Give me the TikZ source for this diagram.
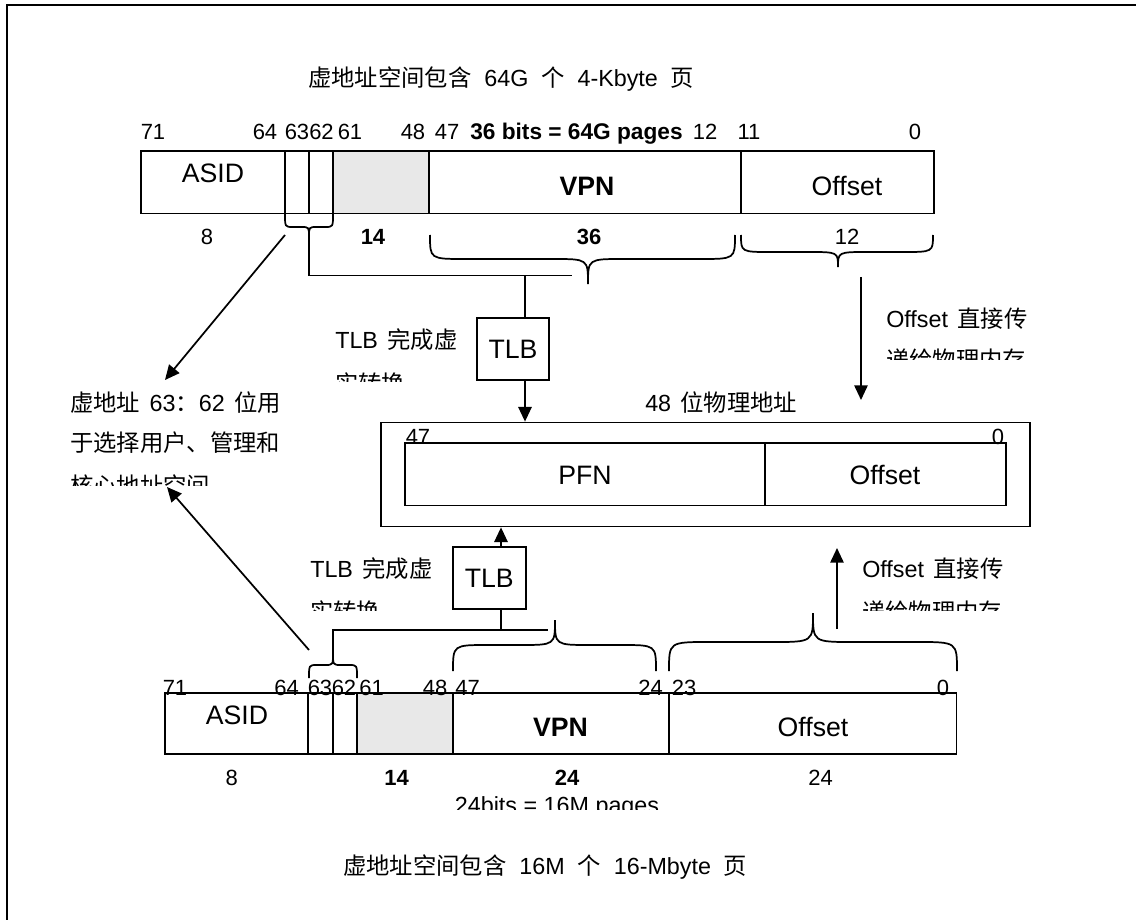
\documentclass[tikz,border=0pt]{standalone}
\usepackage{fontspec}
\setmainfont{Liberation Sans}
\newfontfamily\cjk{Noto Sans CJK SC}
\usetikzlibrary{arrows.meta}
\newcommand\jsp{\hspace{0.4em}}
\newcommand\tsp{\hspace{0.55em}}
% brace: #1 x1, #2 x2, #3 tip x, #4 arm-end y, #5 middle y, #6 tip y, #7 radius
\newcommand\mybrace[7]{%
  \draw[ln] (#1,#4) .. controls (#1,#5) .. ({#1+#7},#5) -- ({#3-#7},#5)
    .. controls (#3,#5) .. (#3,#6) .. controls (#3,#5) .. ({#3+#7},#5)
    -- ({#2-#7},#5) .. controls (#2,#5) .. (#2,#4);}
\definecolor{fieldgray}{HTML}{E8E8E8}
\tikzset{
  ln/.style={line width=1.3pt},
  arr/.style={line width=1.3pt, -{Triangle[length=11pt,width=10pt]}},
  sm/.style={font=\fontsize{17.5}{21}\selectfont, inner sep=0pt},
  bitn/.style={font=\fontsize{16.5}{20}\selectfont, inner sep=0pt, anchor=base},
  bitb/.style={font=\fontsize{16.5}{20}\selectfont\bfseries, inner sep=0pt, anchor=base},
  big/.style={font=\fontsize{20}{24}\selectfont, inner sep=0pt, anchor=base},
  bigb/.style={font=\fontsize{20}{24}\selectfont\bfseries, inner sep=0pt, anchor=base},
  tlbbox/.style={draw, line width=1.3pt, font=\fontsize{20}{24}\selectfont, inner sep=0pt},
}
\begin{document}
\begin{tikzpicture}[x=0.75pt,y=-0.75pt]
\useasboundingbox (0,0) rectangle (1136,920);
% frame
\draw[ln] (7,920) -- (7,5) -- (1136,5);

% titles
\node[sm, anchor=base west] (title1) at (308,87) {{\cjk 虚地址空间包含}\tsp 64G\tsp{\cjk 个}\tsp 4-Kbyte\tsp{\cjk 页}};
\node[sm, anchor=base west] (title2) at (343,874) {{\cjk 虚地址空间包含}\tsp 16M\tsp{\cjk 个}\tsp 16-Mbyte\tsp{\cjk 页}};

% ---------------- top register ----------------
\fill[fieldgray] (333,151) rectangle (429,213.5);
\draw[ln] (141,151) rectangle (934,213.5);
\draw[ln] (285,151) -- (285,213.5);
\draw[ln] (309,151) -- (309,213.5);
\draw[ln] (333,151) -- (333,213.5);
\draw[ln] (429,151) -- (429,213.5);
\draw[ln] (741,151) -- (741,213.5);
\node[big]  (asid1) at (213,182.6) {ASID};
\node[bigb] (vpn1)  at (587,195.6) {VPN};
\node[big]  (off1)  at (847,195.6) {Offset};
% bit numbers
\node[bitn] (a71) at (153,139.5) {71};
\node[bitn] (a64) at (265,139.5) {64};
\node[bitn] (a63) at (297,139.5) {63};
\node[bitn] (a62) at (321.5,139.5) {62};
\node[bitn] (a61) at (350,139.5) {61};
\node[bitn] (a48) at (413,139.5) {48};
\node[bitn] (a47) at (447,139.5) {47};
\node[font=\fontsize{17}{20}\selectfont\bfseries, inner sep=0pt, anchor=base] (abits) at (576.5,139.5) {36 bits = 64G pages};
\node[bitn] (a12) at (705,139.5) {12};
\node[bitn] (a11) at (749,139.5) {11};
\node[bitn] (a0)  at (915,139.5) {0};
% widths
\node[bitn] (w8a)  at (207,244) {8};
\node[bitb] (w14a) at (373,244) {14};
\node[bitb] (w36a) at (589,244) {36};
\node[bitn] (w12a) at (847,244) {12};
% braces
\mybrace{285}{333}{309}{214}{227}{237}{8}
\mybrace{430}{735}{588}{235}{259}{284}{35}
\mybrace{741}{933}{838}{235}{252}{267}{30}

% ---------------- top TLB ----------------
\coordinate (sb1) at (309,237);
\coordinate (hl1) at (309,275.5);
\coordinate (he1) at (572,275.5);
\coordinate (tj1) at (525,275.5);
\node[tlbbox, minimum width=54pt, minimum height=46.5pt] (tlb1) at (513,349) {TLB};
\draw[ln] (sb1) -- (hl1) -- (he1);
\draw[ln] (tj1) -- (tj1 |- tlb1.north);
\node[sm, anchor=base west] (t1a) at (335,349) {TLB\jsp{\cjk 完成虚}};
\begin{scope}
\clip (320,355) rectangle (470,381);
\node[sm, anchor=base west] (t1b) at (335,392) {\cjk 实转换};
\end{scope}

% ---------------- physical address ----------------
\node[draw, line width=1.3pt, minimum width=486.75pt, minimum height=78pt, inner sep=0pt] (phys) at (705.5,474.5) {};
\draw[ln] (405,443) rectangle (1006,505.5);
\draw[ln] (765,443) -- (765,505.5);
\node[big] (pfn)  at (585,484) {PFN};
\node[big] (poff) at (885,484) {Offset};
\node[bitn] (p47) at (418,444) {47};
\node[bitn] (p0)  at (998,444) {0};
\node[sm, anchor=base west] (paddr) at (645,411) {48\jsp{\cjk 位物理地址}};
\draw[arr] (tlb1.south -| tj1) -- (tj1 |- phys.north);

% offset arrow (top)
\coordinate (oa1) at (861,277);
\coordinate (ob1) at (861,400);
\draw[arr] (oa1) -- (ob1);
\node[sm, anchor=base west] (o1a) at (886,327) {Offset\jsp{\cjk 直接传}};
\begin{scope}
\clip (870,335) rectangle (1060,359);
\node[sm, anchor=base west] (o1b) at (886,368.5) {\cjk 递给物理内存};
\end{scope}

% ---------------- left text ----------------
\node[sm, anchor=base west] (l1) at (70,411) {{\cjk 虚地址}\jsp 63{\cjk ：}62\jsp{\cjk 位用}};
\node[sm, anchor=base west] (l2) at (70,451) {\cjk 于选择用户、管理和};
\begin{scope}
\clip (60,460) rectangle (300,485);
\node[sm, anchor=base west] (l3) at (70,494) {\cjk 核心地址空间};
\end{scope}
\coordinate (la1) at (285,235);
\coordinate (lt1) at (165,380);
\draw[arr] (la1) -- (lt1);
\coordinate (la2) at (309,650);
\coordinate (lt2) at (167,487);
\draw[arr] (la2) -- (lt2);

% ---------------- bottom TLB ----------------
\node[tlbbox, minimum width=54.75pt, minimum height=46.7pt] (tlb2) at (489.2,577.85) {TLB};
\coordinate (tj2) at (501,630);
\coordinate (sb2) at (333,653);
\coordinate (hl2) at (333,630);
\coordinate (he2) at (548,630);
\draw[ln] (sb2) -- (hl2) -- (he2);
\draw[ln] (tj2) -- (tj2 |- tlb2.south);
\draw[arr] (tlb2.north -| tj2) -- (tj2 |- phys.south);
\node[sm, anchor=base west] (t2a) at (310,577) {TLB\jsp{\cjk 完成虚}};
\begin{scope}
\clip (300,590) rectangle (445,610);
\node[sm, anchor=base west] (t2b) at (310,620.5) {\cjk 实转换};
\end{scope}

% offset arrow (bottom)
\coordinate (oa2) at (837,629);
\coordinate (ob2) at (837,548);
\draw[arr] (oa2) -- (ob2);
\node[sm, anchor=base west] (o2a) at (862,577) {Offset\jsp{\cjk 直接传}};
\begin{scope}
\clip (850,590) rectangle (1040,610);
\node[sm, anchor=base west] (o2b) at (862,620.5) {\cjk 递给物理内存};
\end{scope}

% ---------------- bottom register ----------------
\fill[fieldgray] (356.7,692.7) rectangle (452.7,754.3);
\draw[ln] (165,692.7) rectangle (956.5,754.3);
\draw[ln] (308.3,692.7) -- (308.3,754.3);
\draw[ln] (332.7,692.7) -- (332.7,754.3);
\draw[ln] (356.7,692.7) -- (356.7,754.3);
\draw[ln] (452.7,692.7) -- (452.7,754.3);
\draw[ln] (669,692.7) -- (669,754.3);
\node[big]  (asid2) at (237,724.6) {ASID};
\node[bigb] (vpn2)  at (560.5,736.6) {VPN};
\node[big]  (off2)  at (813,736.6) {Offset};
\node[bitn] (b71) at (175,695.5) {71};
\node[bitn] (b64) at (286.7,695.5) {64};
\node[bitn] (b63) at (320,695.5) {63};
\node[bitn] (b62) at (344,695.5) {62};
\node[bitn] (b61) at (371.7,695.5) {61};
\node[bitn] (b48) at (435,695.5) {48};
\node[bitn] (b47) at (467.5,695.5) {47};
\node[bitn] (b24) at (650.5,695.5) {24};
\node[bitn] (b23) at (684,695.5) {23};
\node[bitn] (b0)  at (943,695.5) {0};
\node[bitn] (w8b)  at (231.7,785.5) {8};
\node[bitb] (w14b) at (396.7,785.5) {14};
\node[bitb] (w24b) at (567,785.5) {24};
\node[bitn] (w24c) at (820.5,785.5) {24};
\begin{scope}
\clip (440,790) rectangle (680,809);
\node[sm, anchor=base] (pg2) at (557,813.5) {24bits = 16M pages};
\end{scope}
% braces (opening downward)
\mybrace{309}{357}{333}{678}{665}{653}{8}
\mybrace{453}{656}{555}{671}{645}{620}{35}
\mybrace{669}{957}{813}{671}{642}{613}{40}
\end{tikzpicture}
\end{document}
